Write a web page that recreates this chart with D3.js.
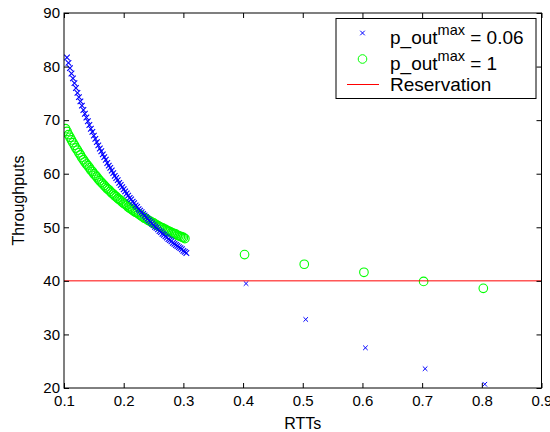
<!DOCTYPE html>
<html>
<head>
<meta charset="utf-8">
<script src="https://cdn.jsdelivr.net/npm/d3@7"></script>
<style>
  html, body { margin: 0; padding: 0; background: #fff; }
  svg { display: block; }
  text { font-family: "Liberation Sans", Arial, Helvetica, sans-serif; fill: #000; }
</style>
</head>
<body>
<svg id="chart" width="550" height="432"></svg>
<script>
// Dense sweep, p_out^max = 0.06 (blue crosses)
const rttBlueDense = [0.105,0.1075,0.11,0.1125,0.115,0.1175,0.12,0.1225,0.125,0.1275,
  0.13,0.1325,0.135,0.1375,0.14,0.1425,0.145,0.1475,0.15,0.1525,
  0.155,0.1575,0.16,0.1625,0.165,0.1675,0.17,0.1725,0.175,0.1775,
  0.18,0.1825,0.185,0.1875,0.19,0.1925,0.195,0.1975,0.2,0.2025,
  0.205,0.2075,0.21,0.2125,0.215,0.2175,0.22,0.2225,0.225,0.2275,
  0.23,0.2325,0.235,0.2375,0.24,0.2425,0.245,0.2475,0.25,0.2525,
  0.255,0.2575,0.26,0.2625,0.265,0.2675,0.27,0.2725,0.275,0.2775,
  0.28,0.2825,0.285,0.2875,0.29,0.2925,0.295,0.2975,0.3,0.3025,0.305];
const thrBlueDense = [81.7,80.7,79.7,78.7,77.8,76.9,76.0,75.1,74.3,73.5,
  72.7,71.9,71.2,70.5,69.8,69.1,68.4,67.8,67.1,66.5,
  65.9,65.3,64.7,64.2,63.6,63.1,62.6,62.0,61.5,61.1,
  60.6,60.1,59.6,59.2,58.8,58.3,57.9,57.5,57.1,56.7,
  56.3,55.9,55.5,55.2,54.8,54.5,54.1,53.8,53.4,53.1,
  52.8,52.5,52.2,51.9,51.6,51.3,51.0,50.7,50.4,50.1,
  49.9,49.6,49.3,49.1,48.8,48.6,48.3,48.1,47.8,47.6,
  47.4,47.1,46.9,46.7,46.5,46.3,46.1,45.9,45.6,45.4,45.2];

// Dense sweep, p_out^max = 1 (green circles)
const rttGreenDense = [0.1025,0.105,0.1075,0.11,0.1125,0.115,0.1175,0.12,0.1225,0.125,
  0.1275,0.13,0.1325,0.135,0.1375,0.14,0.1425,0.145,0.1475,0.15,
  0.1525,0.155,0.1575,0.16,0.1625,0.165,0.1675,0.17,0.1725,0.175,
  0.1775,0.18,0.1825,0.185,0.1875,0.19,0.1925,0.195,0.1975,0.2,
  0.2025,0.205,0.2075,0.21,0.2125,0.215,0.2175,0.22,0.2225,0.225,
  0.2275,0.23,0.2325,0.235,0.2375,0.24,0.2425,0.245,0.2475,0.25,
  0.2525,0.255,0.2575,0.26,0.2625,0.265,0.2675,0.27,0.2725,0.275,
  0.2775,0.28,0.2825,0.285,0.2875,0.29,0.2925,0.295,0.2975,0.3,0.3025];
const thrGreenDense = [68.4,67.9,67.3,66.8,66.3,65.8,65.3,64.8,64.4,63.9,
  63.5,63.0,62.6,62.2,61.8,61.5,61.1,60.7,60.4,60.0,
  59.7,59.4,59.0,58.7,58.4,58.1,57.8,57.5,57.2,57.0,
  56.7,56.4,56.2,55.9,55.7,55.4,55.2,55.0,54.7,54.5,
  54.3,54.1,53.8,53.6,53.4,53.2,53.0,52.8,52.7,52.5,
  52.3,52.1,51.9,51.7,51.6,51.4,51.2,51.1,50.9,50.8,
  50.6,50.4,50.3,50.1,50.0,49.9,49.7,49.6,49.4,49.3,
  49.2,49.0,48.9,48.8,48.7,48.5,48.4,48.3,48.2,48.1,47.9];

// Sparse points at larger RTTs
const rttBlueSparse = [0.405, 0.505, 0.605, 0.705, 0.805];
const thrBlueSparse = [39.5, 32.8, 27.5, 23.6, 20.7];
const rttGreenSparse = [0.4025, 0.5025, 0.6025, 0.7025, 0.8025];
const thrGreenSparse = [44.9, 43.1, 41.6, 39.9, 38.6];

// Reservation level
const reservation = 40;

// Axes
const xDomain = [0.1, 0.9];
const yDomain = [20, 90];
const xTicks = [0.1, 0.2, 0.3, 0.4, 0.5, 0.6, 0.7, 0.8, 0.9];
const xTickLabels = ["0.1", "0.2", "0.3", "0.4", "0.5", "0.6", "0.7", "0.8", "0.9"];
const yTicks = [20, 30, 40, 50, 60, 70, 80, 90];
const yTickLabels = ["20", "30", "40", "50", "60", "70", "80", "90"];

const legendLabels = [
  { base: "p_out", sup: "max", rest: " = 0.06", kind: "x" },
  { base: "p_out", sup: "max", rest: " = 1", kind: "o" },
  { base: "Reservation", sup: null, rest: null, kind: "line" }
];

const BLUE = "#0000ff", GREEN = "#00ff00", RED = "#ff0000";

const svg = d3.select("#chart");
const L = 64, R = 541.5, T = 13, B = 388;
const x = d3.scaleLinear().domain(xDomain).range([L, R]);
const y = d3.scaleLinear().domain(yDomain).range([B, T]);

svg.append("rect").attr("width", 550).attr("height", 432).attr("fill", "#fff");

svg.append("clipPath").attr("id", "plotclip")
  .append("rect").attr("x", L).attr("y", T).attr("width", R - L).attr("height", B - T);

const plot = svg.append("g").attr("clip-path", "url(#plotclip)");

function crosses(g, xs, ys, h, sw) {
  g.selectAll(null).data(xs.map((v, i) => [v, ys[i]])).enter().append("path")
    .attr("d", d => {
      const cx = x(d[0]), cy = y(d[1]);
      return `M${cx - h},${cy - h}L${cx + h},${cy + h}M${cx - h},${cy + h}L${cx + h},${cy - h}`;
    })
    .attr("stroke", BLUE).attr("stroke-width", sw).attr("fill", "none");
}
function circles(g, xs, ys, r, sw) {
  g.selectAll(null).data(xs.map((v, i) => [v, ys[i]])).enter().append("circle")
    .attr("cx", d => x(d[0])).attr("cy", d => y(d[1])).attr("r", r)
    .attr("stroke", GREEN).attr("stroke-width", sw).attr("fill", "none");
}

circles(plot.append("g"), rttGreenDense, thrGreenDense, 4.3, 1.2);
circles(plot.append("g"), rttGreenSparse, thrGreenSparse, 4.3, 1.1);
crosses(plot.append("g"), rttBlueDense, thrBlueDense, 2.8, 1.1);
crosses(plot.append("g"), rttBlueSparse, thrBlueSparse, 2.3, 1);

plot.append("line")
  .attr("x1", x(xDomain[0])).attr("x2", x(xDomain[1]))
  .attr("y1", y(reservation)).attr("y2", y(reservation))
  .attr("stroke", RED).attr("stroke-width", 1);

// Axes with inward ticks on all four sides
const tickLen = 5;
const gx = svg.append("g").attr("transform", `translate(0,${B})`)
  .call(d3.axisBottom(x).tickValues(xTicks).tickFormat((d, i) => xTickLabels[i])
    .tickSizeInner(-tickLen).tickSizeOuter(0).tickPadding(7));
const gxTop = svg.append("g").attr("transform", `translate(0,${T})`)
  .call(d3.axisTop(x).tickValues(xTicks).tickFormat("").tickSizeInner(-tickLen).tickSizeOuter(0));
const gy = svg.append("g").attr("transform", `translate(${L},0)`)
  .call(d3.axisLeft(y).tickValues(yTicks).tickFormat((d, i) => yTickLabels[i])
    .tickSizeInner(-tickLen).tickSizeOuter(0).tickPadding(4));
const gyRight = svg.append("g").attr("transform", `translate(${R},0)`)
  .call(d3.axisRight(y).tickValues(yTicks).tickFormat("").tickSizeInner(-tickLen).tickSizeOuter(0));

[gx, gxTop, gy, gyRight].forEach(g => {
  g.select(".domain").remove();
  g.selectAll(".tick line").attr("stroke", "#000").attr("stroke-width", 1);
  g.selectAll(".tick text").attr("font-size", 15).attr("font-family", "Liberation Sans, Arial, sans-serif").attr("fill", "#000");
});

svg.append("rect").attr("x", L).attr("y", T).attr("width", R - L).attr("height", B - T)
  .attr("fill", "none").attr("stroke", "#000").attr("stroke-width", 1);

// Axis titles
svg.append("text").attr("x", (L + R) / 2).attr("y", 429).attr("text-anchor", "middle")
  .attr("font-size", 16).text("RTTs");
svg.append("text").attr("transform", `translate(24,${(T + B) / 2}) rotate(-90)`)
  .attr("text-anchor", "middle").attr("font-size", 16).text("Throughputs");

// Legend
const lg = svg.append("g");
lg.append("rect").attr("x", 336).attr("y", 18.5).attr("width", 200).attr("height", 80)
  .attr("fill", "#fff").attr("stroke", "#000").attr("stroke-width", 1);
const rowMarkerY = [33, 59, 84.5];
const rowBaseY = [43.5, 69.5, 91];
legendLabels.forEach((item, i) => {
  const my = rowMarkerY[i];
  if (item.kind === "x") {
    const h = 2.3, cx = 362.5;
    lg.append("path").attr("d", `M${cx - h},${my - h}L${cx + h},${my + h}M${cx - h},${my + h}L${cx + h},${my - h}`)
      .attr("stroke", BLUE).attr("fill", "none");
  } else if (item.kind === "o") {
    lg.append("circle").attr("cx", 362.5).attr("cy", my).attr("r", 4.3)
      .attr("stroke", GREEN).attr("fill", "none");
  } else {
    lg.append("line").attr("x1", 347).attr("x2", 379).attr("y1", my).attr("y2", my)
      .attr("stroke", RED).attr("stroke-width", 1);
  }
  const t = lg.append("text").attr("x", 390).attr("y", rowBaseY[i]).attr("font-size", 19);
  t.append("tspan").text(item.base);
  if (item.sup) {
    t.append("tspan").attr("font-size", 14.5).attr("dy", -9).text(item.sup);
    t.append("tspan").attr("dy", 9).text(item.rest);
  }
});
</script>
</body>
</html>
